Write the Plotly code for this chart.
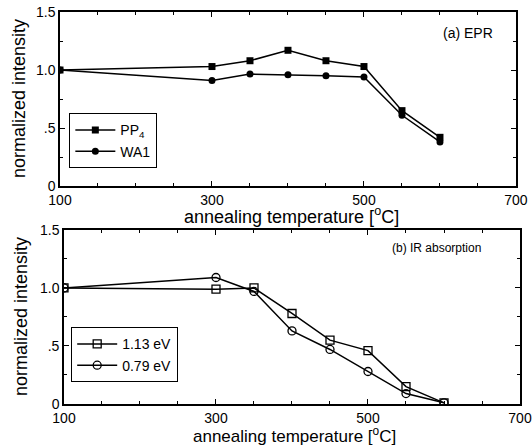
import plotly.graph_objects as go

temps = [100, 300, 350, 400, 450, 500, 550, 600]
pp4 = [1.0, 1.03, 1.08, 1.17, 1.08, 1.03, 0.65, 0.42]
wa1 = [1.0, 0.91, 0.965, 0.96, 0.95, 0.94, 0.61, 0.38]
ir_113 = [1.0, 0.99, 1.0, 0.78, 0.55, 0.46, 0.15, 0.01]
ir_079 = [1.0, 1.09, 0.97, 0.63, 0.47, 0.28, 0.09, 0.01]

x_ticks = [100, 300, 500, 700]
y_tickvals = [0, 0.5, 1.0, 1.5]
y_ticktext = ["0", ".5", "1.0", "1.5"]

FONT = "Liberation Sans, Arial, sans-serif"
fig = go.Figure()

fig.add_trace(go.Scatter(x=temps, y=pp4, name="PP<sub>4</sub>", mode="lines+markers",
                         line=dict(color="black", width=1.5),
                         marker=dict(symbol="square", size=7, color="black"),
                         xaxis="x", yaxis="y", legend="legend"))
fig.add_trace(go.Scatter(x=temps, y=wa1, name="WA1", mode="lines+markers",
                         line=dict(color="black", width=1.5),
                         marker=dict(symbol="circle", size=7, color="black"),
                         xaxis="x", yaxis="y", legend="legend"))
fig.add_trace(go.Scatter(x=temps, y=ir_113, name="1.13 eV", mode="lines+markers",
                         line=dict(color="black", width=1.5),
                         marker=dict(symbol="square-open", size=8, color="black", line=dict(width=1.3)),
                         xaxis="x2", yaxis="y2", legend="legend2"))
fig.add_trace(go.Scatter(x=temps, y=ir_079, name="0.79 eV", mode="lines+markers",
                         line=dict(color="black", width=1.5),
                         marker=dict(symbol="circle-open", size=8, color="black", line=dict(width=1.3)),
                         xaxis="x2", yaxis="y2", legend="legend2"))

xtitle = "annealing temperature [<sup>o</sup>C]"
ytitle = "normalized intensity"

def xaxis(domain, anchor):
    return dict(domain=domain, anchor=anchor, range=[100, 700], tickvals=x_ticks,
                ticks="inside", ticklen=5, tickwidth=1.2, tickcolor="black",
                minor=dict(dtick=50, ticks="inside", ticklen=3, tickcolor="black"),
                showline=True, linecolor="black", linewidth=1.5, mirror="ticks",
                showgrid=False, zeroline=False, automargin=False,
                tickfont=dict(size=14, color="black", family=FONT))

def yaxis(domain, anchor):
    return dict(domain=domain, anchor=anchor, range=[0, 1.5], tickvals=y_tickvals, ticktext=y_ticktext,
                ticks="inside", ticklen=5, tickwidth=1.2, tickcolor="black",
                minor=dict(dtick=0.25, ticks="inside", ticklen=3, tickcolor="black"),
                showline=True, linecolor="black", linewidth=1.5, mirror="ticks",
                showgrid=False, zeroline=False, automargin=False,
                tickfont=dict(size=14, color="black", family=FONT))

legend_common = dict(bordercolor="black", borderwidth=1.2, bgcolor="white",
                     font=dict(size=14, color="black", family=FONT),
                     xanchor="left", yanchor="top", itemwidth=40, tracegroupgap=0)

tfont = dict(size=18, color="black", family=FONT)

fig.update_layout(
    width=532, height=447,
    margin=dict(l=58, r=10, t=12, b=43, autoexpand=False),
    paper_bgcolor="white", plot_bgcolor="white",
    font=dict(family=FONT, color="black"),
    xaxis=xaxis([0.0043, 0.987], "y"),
    yaxis=yaxis([0.556, 1.0], "x"),
    xaxis2=xaxis([0.0129, 0.9957], "y2"),
    yaxis2=yaxis([0.0, 0.444], "x2"),
    legend=dict(x=0.024, y=0.742, **legend_common),
    legend2=dict(x=0.028, y=0.196, **legend_common),
    annotations=[
        dict(text="(a) EPR", xref="paper", yref="paper", x=0.942, y=0.946,
             xanchor="right", yanchor="middle", showarrow=False,
             font=dict(size=14, color="black", family=FONT)),
        dict(text="(b) IR absorption", xref="paper", yref="paper", x=0.916, y=0.398,
             xanchor="right", yanchor="middle", showarrow=False,
             font=dict(size=12, color="black", family=FONT)),
        dict(text=xtitle, xref="paper", yref="paper", x=0.504, y=0.482,
             xanchor="center", yanchor="middle", showarrow=False, font=tfont),
        dict(text=xtitle, xref="paper", yref="paper", x=0.509, y=-0.078,
             xanchor="center", yanchor="middle", showarrow=False,
             font=dict(size=17, color="black", family=FONT)),
        dict(text=ytitle, xref="paper", yref="paper", x=-0.084, y=0.778, textangle=-90,
             xanchor="center", yanchor="middle", showarrow=False, font=tfont),
        dict(text=ytitle, xref="paper", yref="paper", x=-0.08, y=0.224, textangle=-90,
             xanchor="center", yanchor="middle", showarrow=False, font=tfont),
    ],
)

fig.write_html("out.html", config={"displayModeBar": False},
               post_script="document.body.style.margin='0';document.body.style.padding='0';")
